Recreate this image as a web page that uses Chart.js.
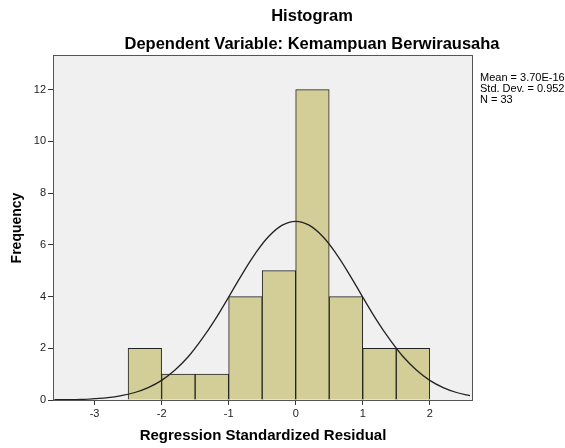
<!DOCTYPE html>
<html lang="en">
<head>
  <meta charset="UTF-8">
  <title>Histogram - Kemampuan Berwirausaha</title>
  <script src="https://cdn.jsdelivr.net/npm/chart.js"></script>
  <style>
    body {
      margin: 0;
      background: #fff;
    }
    canvas {
      display: block;
    }
  </style>
</head>
<body>
  <canvas id="histChart" width="565" height="448"></canvas>

  <script>
    // histogram bins (centres, width 0.5) and counts
    const binCentres = [-2.25, -1.75, -1.25, -0.75, -0.25, 0.25, 0.75, 1.25, 1.75];
    const binCounts  = [2, 1, 1, 4, 5, 12, 4, 2, 2];

    // normal curve
    const curveX = [-3.6, -3.4, -3.2, -3.0, -2.8, -2.6, -2.4, -2.2, -2.0, -1.8, -1.6, -1.4, -1.2, -1.0,
                    -0.8, -0.6, -0.4, -0.2, 0, 0.2, 0.4, 0.6, 0.8, 1.0, 1.2, 1.4, 1.6, 1.8, 2.0, 2.2, 2.4, 2.6];
    const curveY = [0.01, 0.01, 0.02, 0.05, 0.09, 0.17, 0.29, 0.48, 0.76, 1.16, 1.68, 2.35, 3.12, 3.98,
                    4.86, 5.67, 6.33, 6.76, 6.91, 6.76, 6.33, 5.67, 4.86, 3.98, 3.12, 2.35, 1.68, 1.16, 0.76, 0.48, 0.29, 0.17];

    const xTicks = [-3, -2, -1, 0, 1, 2];
    const yTicks = [0, 2, 4, 6, 8, 10, 12];

    const statsLines = ['Mean = 3.70E-16', 'Std. Dev. = 0.952', 'N = 33'];

    const FONT = "'Liberation Sans', Arial, sans-serif";

    // background, frame and texts in SPSS style
    const spssDecor = {
      id: 'spssDecor',
      beforeDraw(chart) {
        const { ctx, chartArea: a } = chart;
        ctx.save();
        ctx.fillStyle = '#f0f0f0';
        ctx.fillRect(a.left, a.top, a.right - a.left, a.bottom - a.top);
        ctx.restore();
      },
      afterDraw(chart) {
        const { ctx, chartArea: a } = chart;
        ctx.save();
        ctx.strokeStyle = '#555';
        ctx.lineWidth = 1;
        ctx.strokeRect(a.left + 0.5, a.top + 0.5, a.right - a.left, a.bottom - a.top);

        ctx.fillStyle = '#000';
        ctx.textAlign = 'center';
        ctx.textBaseline = 'middle';
        ctx.font = 'bold 16.5px ' + FONT;
        ctx.fillText('Histogram', 312, 16);
        ctx.fillText('Dependent Variable: Kemampuan Berwirausaha', 312, 44);

        ctx.font = 'bold 15px ' + FONT;
        ctx.fillText('Regression Standardized Residual', 263, 436);
        ctx.font = 'bold 14px ' + FONT;
        ctx.save();
        ctx.translate(17, 228);
        ctx.rotate(-Math.PI / 2);
        ctx.fillText('Frequency', 0, 0);
        ctx.restore();

        ctx.textAlign = 'left';
        ctx.font = '11px ' + FONT;
        statsLines.forEach((line, i) => {
          ctx.fillText(line, 480, 78 + i * 11);
        });
        ctx.restore();
      }
    };

    const ctx = document.getElementById('histChart').getContext('2d');
    new Chart(ctx, {
      data: {
        datasets: [
          {
            type: 'line',
            data: curveX.map((x, i) => ({ x: x, y: curveY[i] })),
            borderColor: '#222',
            borderWidth: 1.3,
            pointRadius: 0,
            tension: 0.4,
            fill: false,
            order: 0
          },
          {
            type: 'bar',
            data: binCentres.map((x, i) => ({ x: x, y: binCounts[i] })),
            backgroundColor: '#d3ce97',
            borderColor: '#222',
            borderWidth: 1,
            barPercentage: 1,
            categoryPercentage: 1,
            order: 1
          }
        ]
      },
      options: {
        responsive: false,
        animation: false,
        layout: {
          padding: { top: 55, right: 93, left: 0, bottom: 0 }
        },
        plugins: {
          legend: { display: false },
          tooltip: { enabled: false }
        },
        scales: {
          x: {
            type: 'linear',
            offset: false,
            min: -3.62,
            max: 2.63,
            afterFit(scale) { scale.height = 48; },
            afterBuildTicks(scale) { scale.ticks = xTicks.map(v => ({ value: v })); },
            grid: { offset: false, drawOnChartArea: false, drawTicks: true, tickLength: 5, color: '#333' },
            border: { display: true, color: '#333' },
            ticks: { color: '#222', font: { family: FONT, size: 11 }, padding: 2 }
          },
          y: {
            type: 'linear',
            min: 0,
            max: 13.34,
            afterFit(scale) { scale.width = 53; },
            afterBuildTicks(scale) { scale.ticks = yTicks.map(v => ({ value: v })); },
            grid: { drawOnChartArea: false, drawTicks: true, tickLength: 5, color: '#333' },
            border: { display: true, color: '#333' },
            ticks: { color: '#222', font: { family: FONT, size: 11 }, padding: 2 }
          }
        }
      },
      plugins: [spssDecor]
    });
  </script>
</body>
</html>
